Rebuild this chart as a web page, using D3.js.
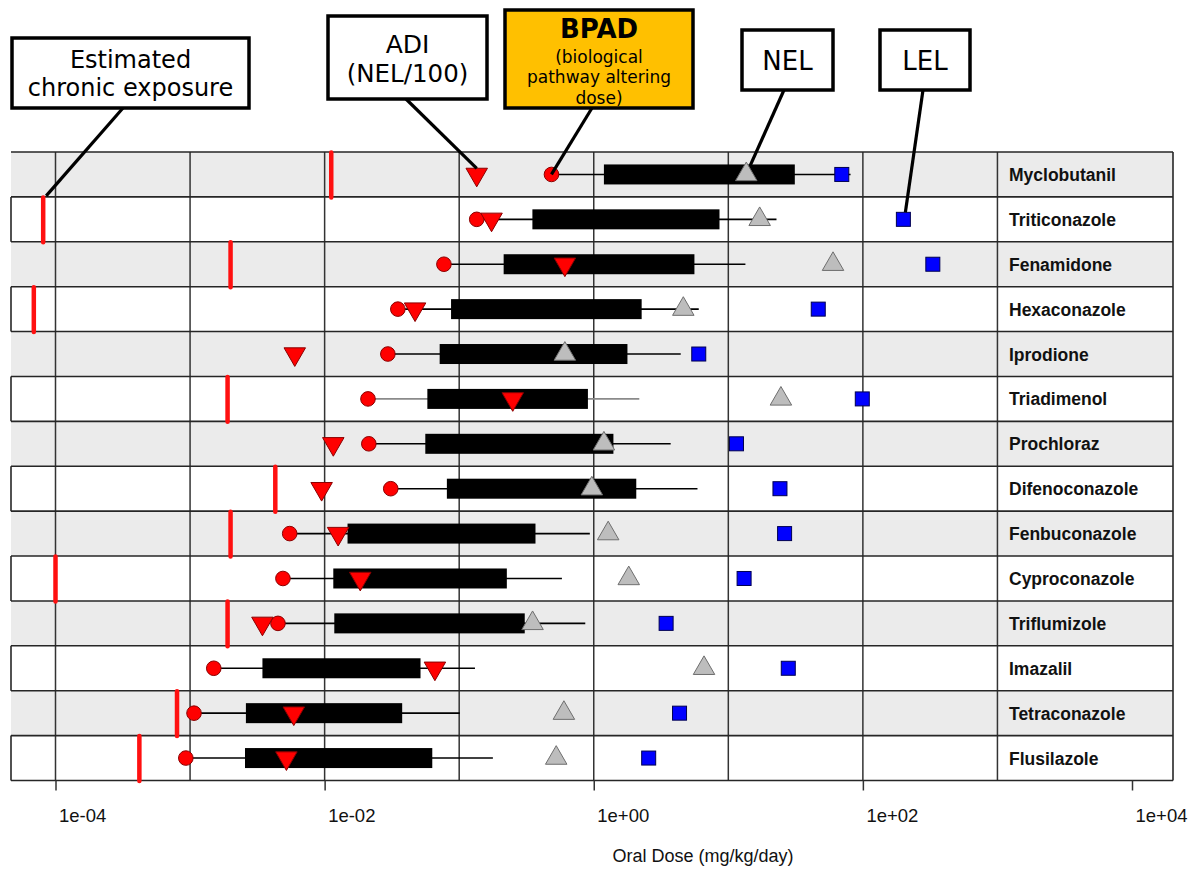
<!DOCTYPE html>
<html>
<head>
<meta charset="utf-8">
<script src="https://cdn.jsdelivr.net/npm/d3@7"></script>
<style>
  body { margin: 0; background: #fff; }
  svg { display: block; }
</style>
</head>
<body>
<div id="chart"></div>
<script>
const WIDTH = 1202, HEIGHT = 871;

// values, mg/kg/day
const compounds = ["Myclobutanil", "Triticonazole", "Fenamidone", "Hexaconazole", "Iprodione",
    "Triadimenol", "Prochloraz", "Difenoconazole", "Fenbuconazole", "Cyproconazole",
    "Triflumizole", "Imazalil", "Tetraconazole", "Flusilazole"];
const exposure = [0.0112, 8.1e-5, 0.0020, 6.9e-5, null, 0.0019, null, 0.0043, 0.0020, 1.0e-4, 0.0019, null, 0.0008, 0.00042];
const adi = [0.135, 0.174, 0.61, 0.047, 0.006, 0.25, 0.0116, 0.0095, 0.0126, 0.0184, 0.00345, 0.066, 0.0059, 0.0052];
const bpad = [0.485, 0.135, 0.077, 0.035, 0.0295, 0.021, 0.0213, 0.031, 0.0055, 0.0049, 0.0045, 0.0015, 0.00107, 0.00093];
const boxLow = [1.19, 0.35, 0.214, 0.087, 0.0716, 0.058, 0.056, 0.081, 0.0148, 0.0116, 0.0118, 0.00345, 0.0026, 0.00256];
const boxHigh = [31.2, 8.6, 5.6, 2.27, 1.78, 0.905, 1.40, 2.07, 0.369, 0.226, 0.307, 0.0516, 0.0377, 0.0631];
const whiskerHigh = [81, 22.8, 13.4, 6.03, 4.43, 2.18, 3.73, 5.9, 0.935, 0.58, 0.865, 0.131, 0.101, 0.178];
const nel = [13.6, 17.1, 60, 4.63, 0.61, 24.6, 1.19, 0.968, 1.28, 1.82, 0.351, 6.6, 0.6, 0.526];
const lel = [69.7, 200, 331, 46.6, 6.03, 99, 11.5, 24.2, 26.2, 13.1, 3.45, 27.9, 4.34, 2.56];
const faintWhisker = ["Triadimenol"];

const gridValues = [1e-4, 1e-3, 1e-2, 1e-1, 1e0, 1e1, 1e2, 1e3];
const tickValues = [1e-4, 1e-2, 1e0, 1e2, 1e4];
const xTitle = "Oral Dose (mg/kg/day)";

const plotLeft = 11, plotRight = 1173, plotTop = 152, plotBottom = 780.5;

const svg = d3.select("#chart")
    .append("svg")
    .attr("width", WIDTH)
    .attr("height", HEIGHT);

const x = d3.scaleLog()
    .domain([1e-4, 1e4])
    .range([55.5, 1132]);

const y = d3.scaleBand()
    .domain(compounds)
    .range([plotTop, plotBottom]);

const bw = y.bandwidth();
const cy = (i) => y(compounds[i]) + bw / 2;

const rows = compounds.map((name, i) => ({
    name, i,
    exposure: exposure[i], adi: adi[i], bpad: bpad[i],
    lo: boxLow[i], hi: boxHigh[i], wh: whiskerHigh[i],
    nel: nel[i], lel: lel[i]
}));

// row backgrounds
svg.append("g")
    .selectAll("rect")
    .data(rows)
    .join("rect")
    .attr("x", plotLeft)
    .attr("y", d => y(d.name))
    .attr("width", plotRight - plotLeft)
    .attr("height", bw)
    .attr("fill", d => d.i % 2 === 0 ? "#ebebeb" : "#ffffff");

// vertical grid
svg.append("g")
    .selectAll("line")
    .data(gridValues)
    .join("line")
    .attr("x1", d => x(d)).attr("x2", d => x(d))
    .attr("y1", plotTop).attr("y2", plotBottom)
    .attr("stroke", "#333")
    .attr("stroke-width", 1.5);

// row borders
const borders = svg.append("g").attr("stroke", "#262626").attr("stroke-width", 1.6);
borders.selectAll("line.h")
    .data(d3.range(compounds.length + 1))
    .join("line")
    .attr("class", "h")
    .attr("x1", plotLeft).attr("x2", plotRight)
    .attr("y1", i => plotTop + i * bw).attr("y2", i => plotTop + i * bw);
borders.selectAll("line.l")
    .data(rows.filter(d => d.i % 2 === 1))
    .join("line")
    .attr("class", "l")
    .attr("x1", plotLeft).attr("x2", plotLeft)
    .attr("y1", d => y(d.name)).attr("y2", d => y(d.name) + bw);
borders.append("line")
    .attr("x1", plotRight).attr("x2", plotRight)
    .attr("y1", plotTop).attr("y2", plotBottom);

// compound labels
svg.append("g")
    .selectAll("text")
    .data(rows)
    .join("text")
    .attr("x", 1009)
    .attr("y", d => cy(d.i) + 6.5)
    .attr("font-family", "'Liberation Sans', Arial, sans-serif")
    .attr("font-weight", "bold")
    .attr("font-size", 17.5)
    .attr("fill", "#111")
    .text(d => d.name);

const marks = svg.append("g");

// whiskers
marks.selectAll("line.whisker")
    .data(rows)
    .join("line")
    .attr("class", "whisker")
    .attr("x1", d => x(d.bpad)).attr("x2", d => x(d.wh))
    .attr("y1", d => cy(d.i)).attr("y2", d => cy(d.i))
    .attr("stroke", d => faintWhisker.includes(d.name) ? "#8a8a8a" : "#000")
    .attr("stroke-width", 1.6);

// boxes
marks.selectAll("rect.box")
    .data(rows)
    .join("rect")
    .attr("class", "box")
    .attr("x", d => x(d.lo))
    .attr("width", d => x(d.hi) - x(d.lo))
    .attr("y", d => cy(d.i) - 10)
    .attr("height", 20)
    .attr("fill", "#000");

// estimated chronic exposure
marks.selectAll("line.exposure")
    .data(rows.filter(d => d.exposure != null))
    .join("line")
    .attr("class", "exposure")
    .attr("x1", d => x(d.exposure)).attr("x2", d => x(d.exposure))
    .attr("y1", d => y(d.name) + 0.5).attr("y2", d => y(d.name) + bw + 0.5)
    .attr("stroke", "#ff1010")
    .attr("stroke-width", 4.5)
    .attr("stroke-linecap", "round");

const tri = d3.symbol().type(d3.symbolTriangle).size(200);

// NEL
marks.selectAll("path.nel")
    .data(rows)
    .join("path")
    .attr("class", "nel")
    .attr("d", tri)
    .attr("transform", d => `translate(${x(d.nel)},${cy(d.i)})`)
    .attr("fill", "#bdbdbd")
    .attr("stroke", "#6e6e6e")
    .attr("stroke-width", 1);

// LEL
marks.selectAll("rect.lel")
    .data(rows)
    .join("rect")
    .attr("class", "lel")
    .attr("x", d => x(d.lel) - 7)
    .attr("y", d => cy(d.i) - 7)
    .attr("width", 14)
    .attr("height", 14)
    .attr("fill", "#0000ff")
    .attr("stroke", "#000050")
    .attr("stroke-width", 1);

// BPAD
marks.selectAll("circle.bpad")
    .data(rows)
    .join("circle")
    .attr("class", "bpad")
    .attr("cx", d => x(d.bpad))
    .attr("cy", d => cy(d.i))
    .attr("r", 7.3)
    .attr("fill", "#ff0000")
    .attr("stroke", "#8b0000")
    .attr("stroke-width", 1);

// ADI
marks.selectAll("path.adi")
    .data(rows)
    .join("path")
    .attr("class", "adi")
    .attr("d", tri)
    .attr("transform", d => `translate(${x(d.adi)},${cy(d.i)}) rotate(180)`)
    .attr("fill", "#ff0000")
    .attr("stroke", "#8b0000")
    .attr("stroke-width", 1);

// x axis
const fmt = (d) => {
    const e = Math.round(Math.log10(d));
    return "1e" + (e < 0 ? "-" : "+") + String(Math.abs(e)).padStart(2, "0");
};

const xAxis = svg.append("g")
    .attr("transform", `translate(0, ${plotBottom})`)
    .call(d3.axisBottom(x).tickValues(tickValues).tickFormat(fmt).tickSize(10));

xAxis.select(".domain").remove();
xAxis.selectAll("line").attr("stroke", "#333").attr("stroke-width", 1.5);
xAxis.selectAll("text")
    .attr("text-anchor", "start")
    .attr("x", 3)
    .attr("y", 41.5)
    .attr("dy", null)
    .attr("font-family", "'Liberation Sans', Arial, sans-serif")
    .attr("font-size", 18.5)
    .attr("fill", "#111");

svg.append("text")
    .attr("x", 703)
    .attr("y", 862)
    .attr("text-anchor", "middle")
    .attr("font-family", "'Liberation Sans', Arial, sans-serif")
    .attr("font-size", 18)
    .attr("fill", "#111")
    .text(xTitle);

// callouts
const callouts = [
    { x: 12, y: 38, w: 237, h: 70, fill: "#fff",
      lines: [["Estimated", 68, 24, "normal"], ["chronic exposure", 96, 24, "normal"]],
      from: [123, 108], to: [x(exposure[1]) + 3, y(compounds[1]) - 1] },
    { x: 328, y: 16, w: 159, h: 83, fill: "#fff",
      lines: [["ADI", 53, 25, "normal"], ["(NEL/100)", 82, 24.5, "normal"]],
      from: [406, 99], to: [x(adi[0]), cy(0) - 6] },
    { x: 505, y: 10, w: 188, h: 98, fill: "#ffc000",
      lines: [["BPAD", 38, 26, "bold"], ["(biological", 63, 17, "normal"],
              ["pathway altering", 83, 17, "normal"], ["dose)", 104, 17, "normal"]],
      from: [592, 108], to: [x(bpad[0]), cy(0)] },
    { x: 742, y: 30, w: 91, h: 60, fill: "#fff",
      lines: [["NEL", 70, 26, "normal"]],
      from: [784, 90], to: [x(nel[0]) + 4, cy(0) - 9] },
    { x: 880, y: 30, w: 90, h: 60, fill: "#fff",
      lines: [["LEL", 70, 26, "normal"]],
      from: [923, 90], to: [x(lel[1]) + 2, cy(1) - 7] }
];

const notes = svg.append("g");

notes.selectAll("line")
    .data(callouts)
    .join("line")
    .attr("x1", d => d.from[0]).attr("y1", d => d.from[1])
    .attr("x2", d => d.to[0]).attr("y2", d => d.to[1])
    .attr("stroke", "#000")
    .attr("stroke-width", 3.2);

const boxes = notes.selectAll("g.note")
    .data(callouts)
    .join("g")
    .attr("class", "note");

boxes.append("rect")
    .attr("x", d => d.x).attr("y", d => d.y)
    .attr("width", d => d.w).attr("height", d => d.h)
    .attr("fill", d => d.fill)
    .attr("stroke", "#000")
    .attr("stroke-width", 3.5);

boxes.selectAll("text")
    .data(d => d.lines.map(l => ({ cx: d.x + d.w / 2, t: l[0], y: l[1], size: l[2], weight: l[3] })))
    .join("text")
    .attr("x", d => d.cx)
    .attr("y", d => d.y)
    .attr("text-anchor", "middle")
    .attr("font-family", "'DejaVu Sans', Verdana, sans-serif")
    .attr("font-size", d => d.size)
    .attr("font-weight", d => d.weight)
    .attr("fill", "#000")
    .text(d => d.t);
</script>
</body>
</html>
